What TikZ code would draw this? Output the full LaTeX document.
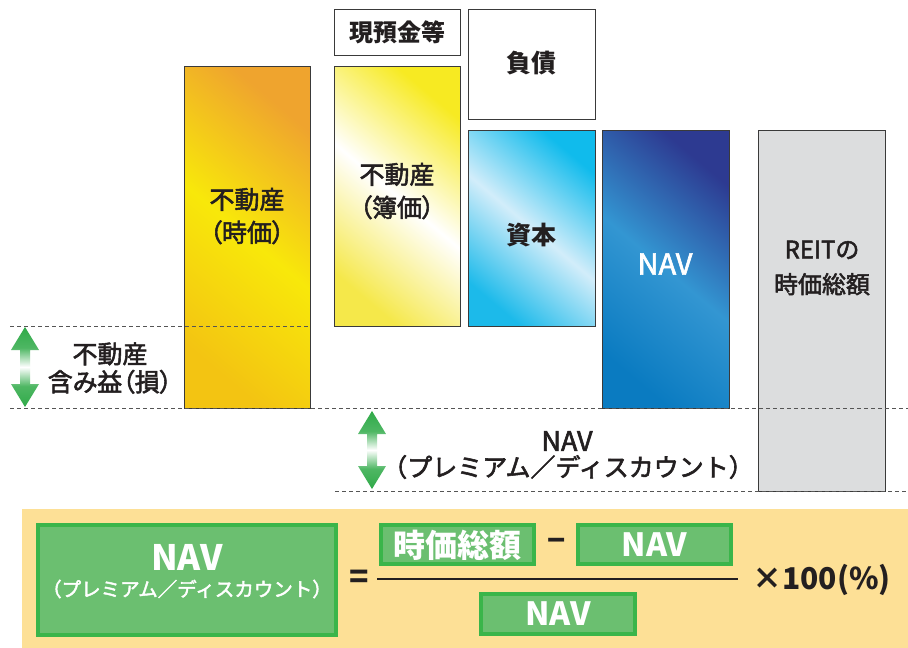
\documentclass[tikz,border=0pt]{standalone}
\usepackage{fontspec}
\setmainfont{Noto Sans CJK JP}
\newfontfamily\medfont{Noto Sans CJK JP}[BoldFont={Noto Sans CJK JP}, BoldFeatures={FakeBold=2.2}]
\newfontfamily\paltfont{Noto Sans CJK JP}[RawFeature={+palt}, BoldFont={Noto Sans CJK JP}, BoldFeatures={FakeBold=2.2}]
\newcommand\medsel{\medfont\bfseries}
\newcommand\paltsel{\paltfont\bfseries}
\usetikzlibrary{calc}
\definecolor{ink}{HTML}{231F20}
\definecolor{boxline}{HTML}{3A3A3A}
\definecolor{dashc}{HTML}{555555}
\definecolor{orangeA}{HTML}{EFA42E}
\definecolor{yellowA}{HTML}{F8E80A}
\definecolor{yellowB}{HTML}{F3C412}
\definecolor{lyA}{HTML}{F7EA22}
\definecolor{lyB}{HTML}{F5E84A}
\definecolor{cyanA}{HTML}{10BBEC}
\definecolor{cyanM}{HTML}{D2EDFA}
\definecolor{cyanB}{HTML}{1CBAEA}
\definecolor{navA}{HTML}{2D3A91}
\definecolor{navM}{HTML}{3396D2}
\definecolor{navB}{HTML}{0A7BC1}
\definecolor{greyF}{HTML}{DCDDDE}
\definecolor{panel}{HTML}{FDE096}
\definecolor{gline}{HTML}{3AB54A}
\definecolor{gfill}{HTML}{6BBF70}
\definecolor{ag}{HTML}{2FAA48}
\pgfdeclareverticalshading{arrowshade}{100bp}{color(0bp)=(ag); color(25bp)=(ag); color(38bp)=(ag!85!white); color(50bp)=(white); color(62bp)=(ag!85!white); color(75bp)=(ag); color(100bp)=(ag)}
\begin{document}
\begin{tikzpicture}[x=1pt,y=-1pt,
  box/.style={draw=boxline, line width=0.8pt, anchor=north west, inner sep=0pt, outer sep=0pt},
  lbl/.style={align=center, text=ink, inner sep=0pt, font=\medsel\fontsize{25}{33}\selectfont},
  dashline/.style={draw=dashc, line width=0.9pt, dash pattern=on 4pt off 3pt},
  gbox/.style={draw=gline, fill=gfill, line width=4pt, inner sep=0pt, outer sep=0pt},
  wtxt/.style={text=white, inner sep=0pt, font=\bfseries\fontsize{32}{36}\selectfont},
  arrowbody/.style={shading=arrowshade}
]
\useasboundingbox (0,0) rectangle (908,648);
\fill[white] (0,0) rectangle (908,648);

% boxes
\node[box, minimum width=126pt, minimum height=342pt, top color=orangeA, bottom color=yellowB, middle color=yellowA, shading angle=-40] (jika) at (184,66) {};
\node[box, minimum width=126pt, minimum height=46pt, fill=white] (genyo) at (334,9) {};
\node[box, minimum width=126pt, minimum height=260pt, top color=lyA, bottom color=lyB, middle color=white, shading angle=-40] (boka) at (334,66) {};
\node[box, minimum width=127pt, minimum height=110pt, fill=white] (fusai) at (468,9) {};
\node[box, minimum width=127pt, minimum height=196pt, top color=cyanA, bottom color=cyanB, middle color=cyanM, shading angle=-40] (shihon) at (468,130) {};
\node[box, minimum width=127pt, minimum height=278pt, top color=navA, bottom color=navB, middle color=navM, shading angle=-40] (navbox) at (602,130) {};
\node[box, minimum width=127pt, minimum height=361pt, fill=greyF] (reit) at (758,130) {};

% dashed lines
\coordinate (d1a) at (10,326);
\coordinate (d1b) at (310,326);
\coordinate (d2a) at (10,408);
\coordinate (d2b) at (908,408);
\coordinate (d3a) at (335,491);
\coordinate (d3b) at (908,491);
\draw[dashline] (d1a) -- (d1b);
\draw[dashline] (d2a) -- (d2b);
\draw[dashline] (d3a) -- (d3b);

% box labels
\node[lbl, font=\paltsel\fontsize{25}{33}\selectfont] (jikaL) at (247,216) {不動産\\（時価）};
\node[lbl, font=\rmfamily\bfseries\fontsize{24}{28}\selectfont] (genyoL) at (397,32) {現預金等};
\node[lbl, font=\paltsel\fontsize{25}{33}\selectfont] (bokaL) at (397,191) {不動産\\（簿価）};
\node[lbl, font=\rmfamily\bfseries\fontsize{25}{30}\selectfont] (fusaiL) at (531,63) {負債};
\node[lbl, font=\rmfamily\bfseries\fontsize{25}{30}\selectfont] (shihonL) at (531,235) {資本};
\node[lbl, text=white, font=\medsel\fontsize{29}{32}\selectfont] (navL) at (665,264) {NAV};
\node[lbl, font=\medsel\fontsize{24}{35}\selectfont] (reitL) at (822,268) {REITの\\時価総額};

% arrows
\coordinate (a1t) at (25,327);
\coordinate (a1b) at (25,407);
\coordinate (a2t) at (372,411);
\coordinate (a2b) at (372,489);
\foreach \t/\b in {a1t/a1b, a2t/a2b}{
  \path[arrowbody] (\t) -- ($(\t)+(14,23)$) -- ($(\t)+(5,23)$) -- ($(\b)+(5,-23)$) -- ($(\b)+(14,-23)$) -- (\b)
     -- ($(\b)+(-14,-23)$) -- ($(\b)+(-5,-23)$) -- ($(\t)+(-5,23)$) -- ($(\t)+(-14,23)$) -- cycle;
}

% side labels
\node[lbl, font=\paltsel\fontsize{25}{28}\selectfont] (fukumi) at (110,368) {不動産\\含み益（損）};
\node[lbl, font=\medsel\fontsize{27}{30}\selectfont] (navmid) at (567,441) {NAV};
\node[lbl, font=\medsel\fontsize{25}{29}\selectfont] (premmid) at (568,467) {（プレミアム／ディスカウント）};

% bottom panel
\node[fill=panel, draw=none, anchor=north west, minimum width=886pt, minimum height=139pt, inner sep=0pt] (panelbg) at (22,509) {};
\node[gbox, minimum width=298pt, minimum height=110pt] (bignav) at (187,580) {};
\node[wtxt, font=\rmfamily\bfseries\fontsize{35}{38}\selectfont] (bignavT) at (187,557) {NAV};
\node[wtxt, font=\medsel\fontsize{19.5}{22}\selectfont] (bignavS) at (187,589) {（プレミアム／ディスカウント）};
\node[text=ink, font=\bfseries\fontsize{32}{36}\selectfont, inner sep=0pt] (eq) at (359,579) {=};
\node[gbox, minimum width=153pt, minimum height=39pt] (mcap) at (457.5,544.5) {};
\node[wtxt] (mcapT) at (457.5,545) {時価総額};
\node[text=ink, font=\bfseries\fontsize{30}{34}\selectfont, inner sep=0pt] (minus) at (557,545) {−};
\node[gbox, minimum width=153pt, minimum height=39pt] (navtop) at (654.5,544.5) {};
\node[wtxt] (navtopT) at (654.5,545) {NAV};
\node[gbox, minimum width=154pt, minimum height=40pt] (navbot) at (558,614) {};
\node[wtxt] (navbotT) at (558,614) {NAV};
\coordinate (fracL) at (377,579);
\coordinate (fracR) at (738,579);
\draw[ink, line width=2.5pt] (fracL) -- (fracR);
\node[text=ink, font=\bfseries\fontsize{30}{34}\selectfont, inner sep=0pt, anchor=west] (times) at (752,580) {×100(\%)};
\end{tikzpicture}
\end{document}
